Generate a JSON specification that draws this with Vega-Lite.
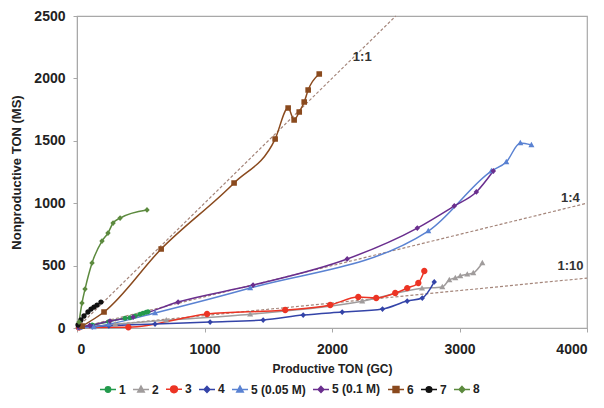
{
  "$schema": "https://vega.github.io/schema/vega-lite/v6.json",
  "width": 510,
  "height": 312,
  "autosize": "none",
  "padding": {"left": 77, "top": 16, "right": 17, "bottom": 80},
  "background": "white",
  "config": {
    "font": "Liberation Sans",
    "view": {"stroke": "#a8a8a8", "strokeWidth": 1.2},
    "axis": {
      "grid": false,
      "domainColor": "#a8a8a8",
      "tickColor": "#a8a8a8",
      "tickSize": 4,
      "format": "d",
      "labelFont": "Liberation Sans",
      "labelFontWeight": "bold",
      "labelFontSize": 14,
      "labelColor": "#222222",
      "titleFont": "Liberation Sans",
      "titleFontWeight": "bold",
      "titleColor": "#222222"
    },
    "legend": {
      "orient": "none", "legendX": 22, "legendY": 364, "direction": "horizontal", "columns": 9,
      "symbolSize": 256, "symbolOpacity": 1, "symbolStrokeWidth": 1.5, "labelFontSize": 12, "labelFontWeight": "bold",
      "labelColor": "#222222", "labelFont": "Liberation Sans", "labelOffset": 2, "columnPadding": 4, "padding": 0
    }
  },
  "datasets": {
    "series": [
      {"s": "1", "x": 10, "y": 4},
      {"s": "1", "x": 120, "y": 25},
      {"s": "1", "x": 250, "y": 50},
      {"s": "1", "x": 377, "y": 78},
      {"s": "1", "x": 416, "y": 82},
      {"s": "1", "x": 455, "y": 96},
      {"s": "1", "x": 494, "y": 110},
      {"s": "1", "x": 518, "y": 118},
      {"s": "1", "x": 542, "y": 126},
      {"s": "1", "x": 557, "y": 130},
      {"s": "2", "x": 20, "y": 3},
      {"s": "2", "x": 300, "y": 30},
      {"s": "2", "x": 700, "y": 62},
      {"s": "2", "x": 1358, "y": 110},
      {"s": "2", "x": 2237, "y": 214},
      {"s": "2", "x": 2706, "y": 318},
      {"s": "2", "x": 2865, "y": 329},
      {"s": "2", "x": 2920, "y": 385},
      {"s": "2", "x": 2967, "y": 401},
      {"s": "2", "x": 3006, "y": 417},
      {"s": "2", "x": 3061, "y": 430},
      {"s": "2", "x": 3108, "y": 441},
      {"s": "2", "x": 3179, "y": 521},
      {"s": "3", "x": 15, "y": 5},
      {"s": "3", "x": 403, "y": 6},
      {"s": "3", "x": 1020, "y": 112},
      {"s": "3", "x": 1633, "y": 144},
      {"s": "3", "x": 1986, "y": 184},
      {"s": "3", "x": 2206, "y": 248},
      {"s": "3", "x": 2347, "y": 240},
      {"s": "3", "x": 2496, "y": 280},
      {"s": "3", "x": 2590, "y": 320},
      {"s": "3", "x": 2677, "y": 361},
      {"s": "3", "x": 2724, "y": 457},
      {"s": "4", "x": 20, "y": 4},
      {"s": "4", "x": 120, "y": 10},
      {"s": "4", "x": 250, "y": 18},
      {"s": "4", "x": 612, "y": 32},
      {"s": "4", "x": 1044, "y": 48},
      {"s": "4", "x": 1460, "y": 64},
      {"s": "4", "x": 1774, "y": 104},
      {"s": "4", "x": 2080, "y": 128},
      {"s": "4", "x": 2396, "y": 152},
      {"s": "4", "x": 2590, "y": 216},
      {"s": "4", "x": 2708, "y": 240},
      {"s": "4", "x": 2802, "y": 369},
      {"s": "5 (0.05 M)", "x": 20, "y": 4},
      {"s": "5 (0.05 M)", "x": 130, "y": 8},
      {"s": "5 (0.05 M)", "x": 250, "y": 30},
      {"s": "5 (0.05 M)", "x": 612, "y": 120},
      {"s": "5 (0.05 M)", "x": 1358, "y": 320},
      {"s": "5 (0.05 M)", "x": 2755, "y": 777},
      {"s": "5 (0.05 M)", "x": 3250, "y": 1258},
      {"s": "5 (0.05 M)", "x": 3367, "y": 1330},
      {"s": "5 (0.05 M)", "x": 3477, "y": 1482},
      {"s": "5 (0.05 M)", "x": 3564, "y": 1466},
      {"s": "5 (0.1 M)", "x": 15, "y": 5},
      {"s": "5 (0.1 M)", "x": 100, "y": 20},
      {"s": "5 (0.1 M)", "x": 259, "y": 56},
      {"s": "5 (0.1 M)", "x": 440, "y": 88},
      {"s": "5 (0.1 M)", "x": 793, "y": 208},
      {"s": "5 (0.1 M)", "x": 1381, "y": 344},
      {"s": "5 (0.1 M)", "x": 2119, "y": 553},
      {"s": "5 (0.1 M)", "x": 2669, "y": 801},
      {"s": "5 (0.1 M)", "x": 2959, "y": 978},
      {"s": "5 (0.1 M)", "x": 3132, "y": 1090},
      {"s": "5 (0.1 M)", "x": 3265, "y": 1258},
      {"s": "6", "x": 40, "y": 15},
      {"s": "6", "x": 212, "y": 128},
      {"s": "6", "x": 660, "y": 633},
      {"s": "6", "x": 1232, "y": 1162},
      {"s": "6", "x": 1554, "y": 1514},
      {"s": "6", "x": 1656, "y": 1763},
      {"s": "6", "x": 1703, "y": 1667},
      {"s": "6", "x": 1743, "y": 1731},
      {"s": "6", "x": 1782, "y": 1811},
      {"s": "6", "x": 1813, "y": 1907},
      {"s": "6", "x": 1900, "y": 2035},
      {"s": "7", "x": 8, "y": 24},
      {"s": "7", "x": 31, "y": 64},
      {"s": "7", "x": 55, "y": 96},
      {"s": "7", "x": 86, "y": 128},
      {"s": "7", "x": 110, "y": 152},
      {"s": "7", "x": 133, "y": 168},
      {"s": "7", "x": 157, "y": 184},
      {"s": "7", "x": 188, "y": 208},
      {"s": "8", "x": 16, "y": 48},
      {"s": "8", "x": 39, "y": 200},
      {"s": "8", "x": 63, "y": 312},
      {"s": "8", "x": 118, "y": 521},
      {"s": "8", "x": 196, "y": 697},
      {"s": "8", "x": 243, "y": 761},
      {"s": "8", "x": 283, "y": 841},
      {"s": "8", "x": 338, "y": 881},
      {"s": "8", "x": 549, "y": 946}
    ],
    "refs": [
      {"r": "1:1", "x": 0, "y": 0},
      {"r": "1:1", "x": 2500, "y": 2500},
      {"r": "1:4", "x": 0, "y": 0},
      {"r": "1:4", "x": 4000, "y": 1000},
      {"r": "1:10", "x": 0, "y": 0},
      {"r": "1:10", "x": 4000, "y": 400}
    ],
    "labels": [
      {"t": "1:1", "x": 2237, "y": 2173},
      {"t": "1:4", "x": 3870, "y": 1042},
      {"t": "1:10", "x": 3870, "y": 497}
    ]
  },
  "layer": [
    {
      "data": {"name": "refs"},
      "mark": {"type": "line", "strokeDash": [3, 2], "strokeWidth": 1.2, "color": "#a4857a"},
      "encoding": {
        "x": {"field": "x", "type": "quantitative", "scale": {"domain": [0, 4000], "nice": false}, "axis": {"values": [0, 1000, 2000, 3000, 4000], "title": "Productive TON (GC)", "titleFontSize": 12, "labelPadding": 10, "titlePadding": 7}},
        "y": {"field": "y", "type": "quantitative", "scale": {"domain": [0, 2500], "nice": false}, "axis": {"values": [0, 500, 1000, 1500, 2000, 2500], "title": "Nonproductive TON (MS)", "titleFontSize": 13, "labelPadding": 8, "titlePadding": 10}},
        "detail": {"field": "r"}
      }
    },
    {
      "data": {"name": "series"},
      "mark": {"type": "line", "strokeWidth": 1.5, "interpolate": "monotone"},
      "encoding": {
        "x": {"field": "x", "type": "quantitative"},
        "y": {"field": "y", "type": "quantitative"},
        "color": {"field": "s", "type": "nominal", "title": null,
          "scale": {"domain": ["1", "2", "3", "4", "5 (0.05 M)", "5 (0.1 M)", "6", "7", "8"],
                    "range": ["#239a4c", "#a09c9c", "#ec3424", "#3444a8", "#5a82d2", "#6a2e8e", "#8a4a1e", "#111111", "#5c8a3e"]}}
      }
    },
    {
      "data": {"name": "series"},
      "mark": {"type": "point", "filled": true, "opacity": 1, "size": 230},
      "encoding": {
        "x": {"field": "x", "type": "quantitative"},
        "y": {"field": "y", "type": "quantitative"},
        "color": {"field": "s", "type": "nominal", "title": null},
        "shape": {"field": "s", "type": "nominal", "title": null,
          "scale": {"domain": ["1", "2", "3", "4", "5 (0.05 M)", "5 (0.1 M)", "6", "7", "8"],
                    "range": [
                      "M-1,0H1M0.33,0A0.33,0.33,0,1,1,-0.33,0A0.33,0.33,0,1,1,0.33,0Z",
                      "M-1,0H1M0,-0.42L0.4,0.3L-0.4,0.3Z",
                      "M-1,0H1M0.42,0A0.42,0.42,0,1,1,-0.42,0A0.42,0.42,0,1,1,0.42,0Z",
                      "M-1,0H1M0,-0.38L0.36,0L0,0.38L-0.36,0Z",
                      "M-1,0H1M0,-0.42L0.4,0.3L-0.4,0.3Z",
                      "M-1,0H1M0,-0.38L0.36,0L0,0.38L-0.36,0Z",
                      "M-1,0H1M-0.37,-0.37H0.37V0.37H-0.37Z",
                      "M-1,0H1M0.35,0A0.35,0.35,0,1,1,-0.35,0A0.35,0.35,0,1,1,0.35,0Z",
                      "M-1,0H1M0,-0.38L0.36,0L0,0.38L-0.36,0Z"
                    ]}}
      }
    },
    {
      "data": {"name": "labels"},
      "mark": {"type": "text", "font": "Liberation Sans", "fontWeight": "bold", "fontSize": 13, "color": "#333333", "align": "center", "baseline": "middle"},
      "encoding": {
        "x": {"field": "x", "type": "quantitative"},
        "y": {"field": "y", "type": "quantitative"},
        "text": {"field": "t"}
      }
    }
  ]
}
